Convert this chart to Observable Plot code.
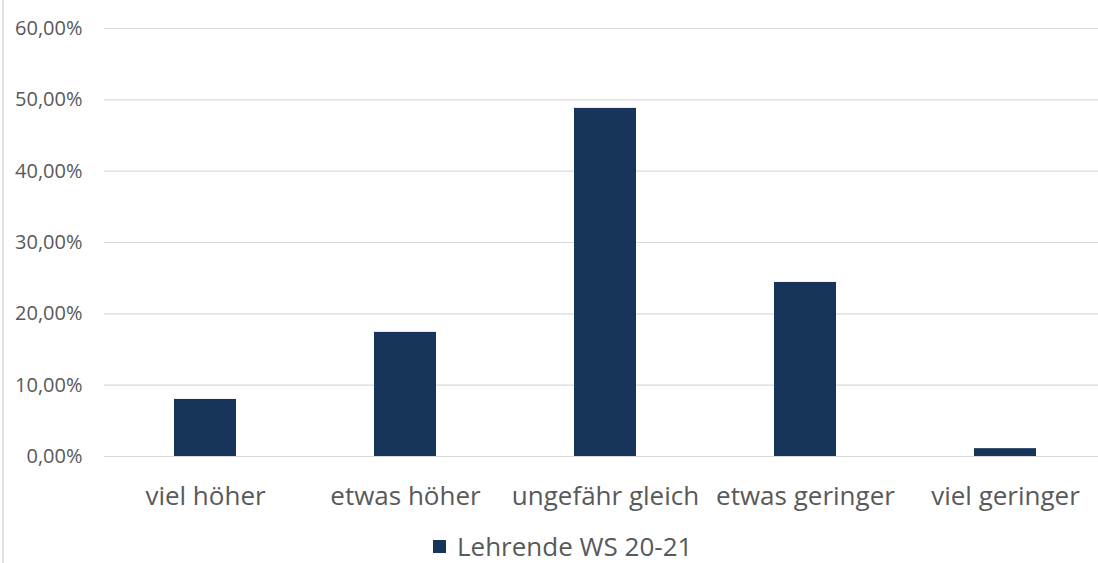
<!DOCTYPE html>
<html>
<head>
<meta charset="utf-8">
<script src="https://cdn.jsdelivr.net/npm/d3@7"></script>
<script src="https://cdn.jsdelivr.net/npm/@observablehq/plot@0.6"></script>
<style>
  html, body { margin: 0; padding: 0; background: #fff; }
  #frame {
    position: relative;
    width: 1096px; height: 563px;
    box-sizing: border-box;
    border-left: 2px solid #e3e3e3;
    margin-left: 2px;
    overflow: hidden;
    font-family: "Open Sans", sans-serif;
  }
  #chart svg { display: block; }
  .legend {
    position: absolute; left: 429px; top: 533px;
    display: flex; align-items: center; gap: 11px;
    font-size: 26px; line-height: 26px; height: 26px; color: #595959;
  }
  .legend .swatch { width: 13px; height: 13px; background: #17355a; }
</style>
</head>
<body>
<div id="frame">
  <div id="chart"></div>
  <div class="legend"><span class="swatch"></span><span id="series-name"></span></div>
</div>
<script>
// Antworten: Belastung im Vergleich (Anteil in %)
const categories = ["viel höher", "etwas höher", "ungefähr gleich", "etwas geringer", "viel geringer"];
const seriesName = "Lehrende WS 20-21";
const shares = [8.0, 17.4, 48.8, 24.4, 1.1];
const yTicks = [0, 10, 20, 30, 40, 50, 60];

const data = categories.map((c, i) => ({category: c, value: shares[i]}));
const fmt = d => d.toFixed(2).replace(".", ",") + "%";

document.getElementById("series-name").textContent = seriesName;

const chart = Plot.plot({
  width: 1094,
  height: 525,
  marginTop: 28,
  marginBottom: 69,
  marginLeft: 100,
  marginRight: 0,
  style: {fontFamily: "'Open Sans', sans-serif", color: "#595959", background: "#fff"},
  x: {domain: categories, range: [100, 1102], paddingInner: 0.69, paddingOuter: 0.345, label: null},
  y: {domain: [0, 60], ticks: yTicks, label: null},
  marks: [
    Plot.gridY(yTicks, {stroke: "#d9d9d9", strokeOpacity: 1, strokeWidth: 1.2}),
    Plot.barY(data, {x: "category", y: "value", fill: "#17355a"}),
    Plot.axisY(yTicks, {tickSize: 0, tickPadding: 22, tickFormat: fmt, fontSize: 20, fill: "#595959"}),
    Plot.axisX({tickSize: 0, tickPadding: 30, fontSize: 26, fill: "#595959"})
  ]
});
document.getElementById("chart").append(chart);
</script>
</body>
</html>
